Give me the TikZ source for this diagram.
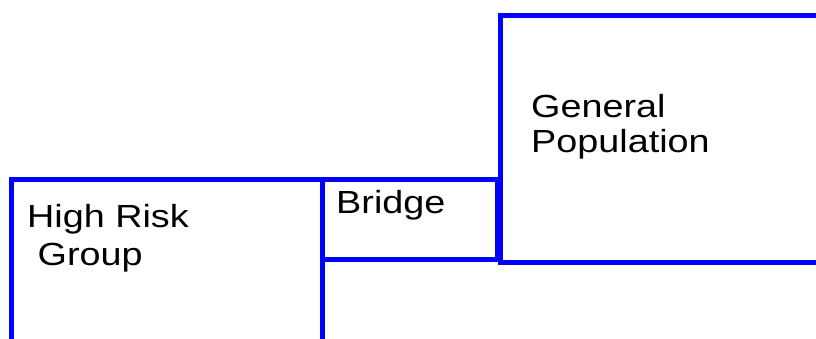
\documentclass[tikz,border=0pt]{standalone}
\usepackage{fontspec}
\setmainfont{Liberation Sans}
\usepackage{tikz}
\definecolor{boxblue}{RGB}{0,0,255}
\tikzstyle{block}=[rectangle,draw=boxblue,line width=5pt,inner sep=0pt]
\tikzstyle{blocktext}=[inner sep=0pt,anchor=base west,align=left,xscale=1.18,transform shape,font=\fontsize{32}{38}\selectfont]

\begin{document}
\begin{tikzpicture}[x=1pt,y=-1pt]
    \useasboundingbox (0,0) rectangle (816,338);
    \clip (0,0) rectangle (816,338);
    \node[block,minimum width=311pt,minimum height=241pt] (HR) at (166.5,299.5) {};
    \node[block,minimum width=175pt,minimum height=80pt] (BR) at (409.5,219) {};
    \node[block,minimum width=360pt,minimum height=247pt] (GP) at (680,138.5) {};
    \node[blocktext] (HRtext) at (27,265) {High Risk\\~Group};
    \node[blocktext] (BRtext) at (336,213) {Bridge};
    \node[blocktext,font=\fontsize{32}{35}\selectfont] (GPtext) at (531,152) {General\\Population};
\end{tikzpicture}
\end{document}
